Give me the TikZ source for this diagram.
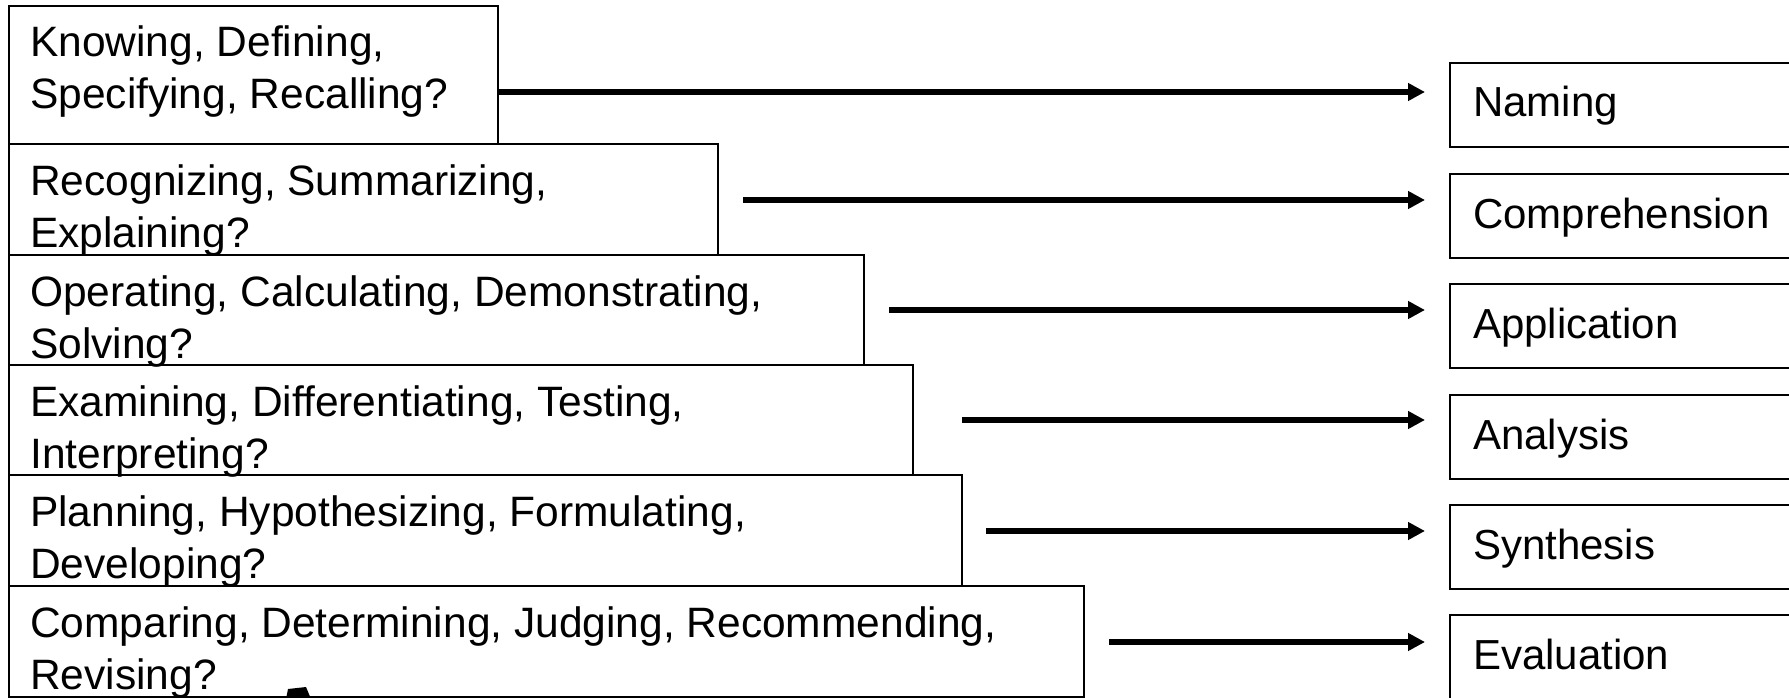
\documentclass[tikz,border=0pt]{standalone}
\usepackage{fontspec}
\setmainfont{Liberation Sans}
\usetikzlibrary{arrows.meta}
\begin{document}
\begin{tikzpicture}[x=1pt,y=-1pt,
  lbox/.style={draw, line width=1.8pt, anchor=north west, inner sep=0pt, outer sep=0pt},
  rbox/.style={draw, line width=1.8pt, anchor=north west, inner sep=0pt, outer sep=0pt,
               minimum width=420pt, minimum height=84pt},
  txt/.style={anchor=base west, inner sep=0pt, font=\fontsize{42}{52}\selectfont},
  ltxt/.style={txt, font=\fontsize{42.5}{52}\selectfont},
  arr/.style={line width=6pt, -{Triangle[length=17pt,width=17pt]}, shorten >=25pt}]
\useasboundingbox (0,0) rectangle (1789,698);

% question boxes, stepped out to the right
\node[lbox, minimum width=489pt,  minimum height=138pt] (b1) at (9,6)   {};
\node[lbox, minimum width=709pt,  minimum height=111pt] (b2) at (9,144) {};
\node[lbox, minimum width=855pt,  minimum height=110pt] (b3) at (9,255) {};
\node[lbox, minimum width=904pt,  minimum height=110pt] (b4) at (9,365) {};
\node[lbox, minimum width=953pt,  minimum height=111pt] (b5) at (9,475) {};
\node[lbox, minimum width=1075pt, minimum height=111pt] (b6) at (9,586) {};

\node[ltxt] (t1) at ([shift={(21,51)}]b1.north west) {\parbox[t]{1100pt}{Knowing, Defining,\\Specifying, Recalling?}};
\node[ltxt] (t2) at ([shift={(21,51)}]b2.north west) {\parbox[t]{1100pt}{Recognizing, Summarizing,\\Explaining?}};
\node[ltxt] (t3) at ([shift={(21,51)}]b3.north west) {\parbox[t]{1100pt}{Operating, Calculating, Demonstrating,\\Solving?}};
\node[ltxt] (t4) at ([shift={(21,51)}]b4.north west) {\parbox[t]{1100pt}{Examining, Differentiating, Testing,\\Interpreting?}};
\node[ltxt] (t5) at ([shift={(21,51)}]b5.north west) {\parbox[t]{1100pt}{Planning, Hypothesizing, Formulating,\\Developing?}};
\node[ltxt] (t6) at ([shift={(21,51)}]b6.north west) {\parbox[t]{1100pt}{Comparing, Determining, Judging, Recommending,\\Revising?}};

% level boxes, running off the right edge
\node[rbox] (r1) at (1450,63)  {};
\node[rbox] (r2) at (1450,174) {};
\node[rbox] (r3) at (1450,284) {};
\node[rbox] (r4) at (1450,395) {};
\node[rbox] (r5) at (1450,505) {};
\node[rbox] (r6) at (1450,615) {};

\node[txt] (n1) at ([shift={(23,54)}]r1.north west) {Naming};
\node[txt] (n2) at ([shift={(23,54)}]r2.north west) {Comprehension};
\node[txt] (n3) at ([shift={(23,54)}]r3.north west) {Application};
\node[txt] (n4) at ([shift={(23,54)}]r4.north west) {Analysis};
\node[txt] (n5) at ([shift={(23,54)}]r5.north west) {Synthesis};
\node[txt] (n6) at ([shift={(23,54)}]r6.north west) {Evaluation};

% arrow starts
\coordinate (a1) at (498,92);
\coordinate (a2) at (743,200);
\coordinate (a3) at (889,310);
\coordinate (a4) at (962,420);
\coordinate (a5) at (986,531);
\coordinate (a6) at (1109,642);

\draw[arr] (a1) -- (a1 -| r1.west);
\draw[arr] (a2) -- (a2 -| r2.west);
\draw[arr] (a3) -- (a3 -| r3.west);
\draw[arr] (a4) -- (a4 -| r4.west);
\draw[arr] (a5) -- (a5 -| r5.west);
\draw[arr] (a6) -- (a6 -| r6.west);

% small mark on the lower edge
\fill (286,699) -- (288,689) -- (306,687) -- (311,699) -- cycle;
\end{tikzpicture}
\end{document}
